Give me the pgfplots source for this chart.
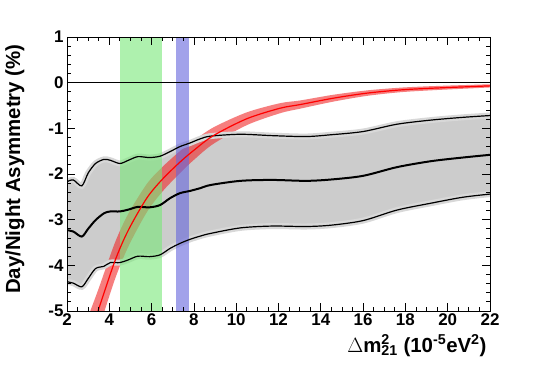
\documentclass[border=0pt]{standalone}
\usepackage{fontspec}
\setmainfont{Liberation Sans}
\usepackage{pgfplots}
\usepackage{pgfplotstable}
\pgfplotsset{compat=1.18}
\usepgfplotslibrary{fillbetween}

\definecolor{bandgray}{RGB}{204,204,204}
\definecolor{halogray}{RGB}{216,216,216}
\definecolor{solgreen}{RGB}{120,232,120}
\definecolor{kamblue}{RGB}{100,100,220}
\definecolor{bandred}{RGB}{240,40,40}

% sensitivity band: upper, central, lower curves
\pgfplotstableread{
x     up     mid    lo
2.00  -2.17  -3.23  -4.36
2.30  -2.13  -3.26  -4.39
2.70  -2.26  -3.37  -4.47
3.00  -1.98  -3.20  -4.29
3.35  -1.77  -3.01  -4.07
3.75  -1.68  -2.86  -4.02
4.05  -1.70  -2.82  -3.94
4.50  -1.77  -2.82  -3.94
4.90  -1.70  -2.78  -3.88
5.35  -1.62  -2.72  -3.80
5.90  -1.64  -2.73  -3.81
6.40  -1.61  -2.68  -3.77
6.87  -1.51  -2.53  -3.63
7.34  -1.40  -2.42  -3.52
7.82  -1.32  -2.37  -3.43
8.30  -1.23  -2.31  -3.36
8.80  -1.17  -2.24  -3.30
10.20 -1.13  -2.15  -3.18
11.70 -1.16  -2.13  -3.14
13.30 -1.18  -2.15  -3.15
14.50 -1.14  -2.12  -3.12
16.00 -1.07  -2.04  -3.02
17.60 -0.91  -1.85  -2.79
19.20 -0.82  -1.72  -2.64
20.70 -0.76  -1.64  -2.51
22.00 -0.72  -1.58  -2.44
}\sens

% expected asymmetry (red)
\pgfplotstableread{
x     c      hi      lo
3.10  -5.50  -5.00   -6.00
3.48  -4.98  -4.53   -5.43
4.27  -3.90  -3.50   -4.30
4.90  -3.23  -2.87   -3.59
5.77  -2.53  -2.22   -2.84
6.50  -2.12  -1.85   -2.39
7.34  -1.74  -1.50   -1.98
8.00  -1.48  -1.27   -1.69
8.92  -1.16  -0.98   -1.34
10.50 -0.79  -0.65   -0.93
12.07 -0.56  -0.45   -0.67
13.02 -0.48  -0.39   -0.57
14.59 -0.34  -0.265  -0.415
16.17 -0.23  -0.17   -0.29
17.74 -0.16  -0.11   -0.21
19.32 -0.12  -0.075  -0.165
22.00 -0.07  -0.035  -0.105
}\expect

\begin{document}
\begin{tikzpicture}
\begin{axis}[
    scale only axis,
    width=423bp, height=274bp,
    xmin=2, xmax=22, ymin=-5, ymax=1,
    axis on top,
    tick align=inside,
    tick pos=both,
    xticklabel pos=bottom,
    yticklabel pos=left,
    xtick={2,4,...,22},
    xticklabels={2,4,6,8,10,12,14,16,18,20,22},
    ytick={-5,-4,...,1},
    yticklabels={-5,-4,-3,-2,-1,0,1},
    minor x tick num=3,
    minor y tick num=4,
    major tick length=8bp,
    minor tick length=4bp,
    tick style={black, line width=0.8bp},
    axis line style={line width=0.8bp},
    ticklabel style={font=\bfseries\fontsize{17}{17}\selectfont},
    xticklabel style={yshift=1bp},
    ylabel={Day/Night Asymmetry (\%)},
    ylabel style={font=\bfseries\fontsize{20.5}{21}\selectfont,
        at={(axis description cs:-0.123,0.518)}, anchor=center},
    xlabel={$\Delta$m\rlap{\textsuperscript{2}}\textsubscript{21} (10\textsuperscript{-5}eV\textsuperscript{2})},
    xlabel style={font=\bfseries\fontsize{20.5}{21}\selectfont,
        at={(axis description cs:1,-0.15)}, anchor=base east},
]
% gray band with light edge
\addplot[name path=U, draw=halogray, line width=6bp, smooth] table[x=x, y=up] {\sens};
\addplot[name path=L, draw=halogray, line width=6bp, smooth] table[x=x, y=lo] {\sens};
\addplot[bandgray, draw=none] fill between[of=U and L];

% allowed regions
\addplot[fill=solgreen, fill opacity=0.6, draw=none] coordinates {(4.5,-5) (4.5,1) (6.5,1) (6.5,-5)} -- cycle;
\addplot[fill=kamblue, fill opacity=0.6, draw=none] coordinates {(7.15,-5) (7.15,1) (7.75,1) (7.75,-5)} -- cycle;

% band curves
\addplot[black, line width=1.2bp, smooth] table[x=x, y=up] {\sens};
\addplot[black, line width=2bp, smooth] table[x=x, y=mid] {\sens};
\addplot[black, line width=1.2bp, smooth] table[x=x, y=lo] {\sens};

\addplot[black, line width=1bp] coordinates {(2,0) (22,0)};

% expectation
\addplot[name path=RH, draw=none, smooth] table[x=x, y=hi] {\expect};
\addplot[name path=RL, draw=none, smooth] table[x=x, y=lo] {\expect};
\addplot[bandred, fill opacity=0.6, draw=none] fill between[of=RH and RL];
\addplot[red, line width=1.2bp, smooth] table[x=x, y=c] {\expect};
\end{axis}
\pgfresetboundingbox
\path ([shift={(-67bp,-60bp)}]current axis.south west) rectangle ([shift={(55bp,37bp)}]current axis.north east);
\end{tikzpicture}
\end{document}
